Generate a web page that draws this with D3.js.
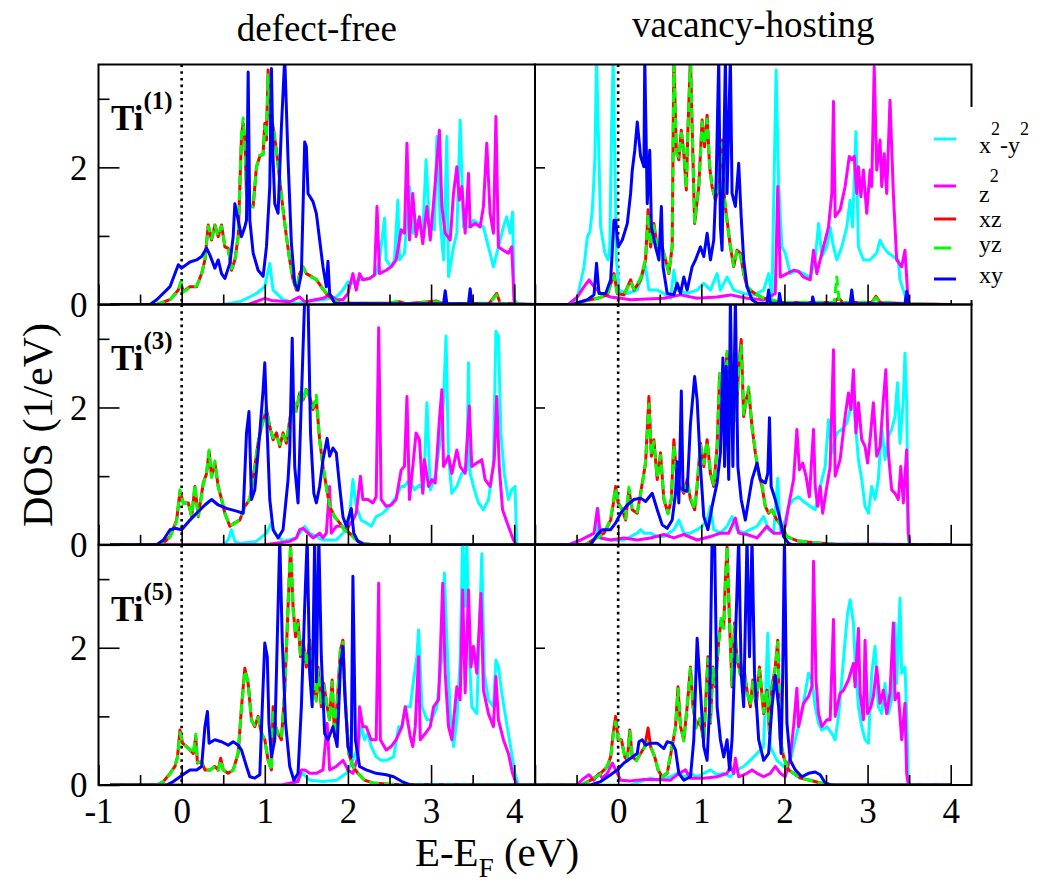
<!DOCTYPE html>
<html>
<head>
<meta charset="utf-8">
<script src="https://cdn.jsdelivr.net/npm/d3@7"></script>
<style>
  body { margin: 0; background: #fff; }
  svg { display: block; }
  svg text { font-family: "Liberation Serif", "DejaVu Serif", serif !important; fill: #000; }
</style>
</head>
<body>
<svg id="chart" width="1051" height="888"></svg>
<script>
const SERIF = "'Liberation Serif', 'DejaVu Serif', serif";
// ---- labels and ticks ----
const columnTitles = ["defect-free", "vacancy-hosting"];
const siteLabels = ["(1)", "(3)", "(5)"];
const orbitalNames = ["x2-y2", "z2", "xz", "yz", "xy"];
const orbitalColors = ["#00ffff", "#ff00ff", "#ff0000", "#00ff00", "#0000ff"];
const xTickLabelsLeft = [-1, 0, 1, 2, 3, 4];
const xTickLabelsRight = [0, 1, 2, 3, 4];
const xMajorTicks = [-1, 0, 1, 2, 3, 4];
const xMinorTicks = [-0.5, 0.5, 1.5, 2.5, 3.5];
const yMajorTicks = [0, 2];
const yMinorTicks = [1, 3];

// ---- projected DOS, [E - E_F (eV), DOS (1/eV)] ----
// Ti(1), defect-free
const free1_x2y2 = [[-0.86,0],[0.5,0],[0.7,0.04],[0.9,0.16],[1.0,0.26],[1.06,0.6],[1.1,0.21],[1.22,0.07],[1.38,0.02],[1.7,0.07],[1.86,0.11],[1.94,0.21],[2.0,0.33],[2.06,0.31],[2.14,0.36],[2.26,0.38],[2.34,0.45],[2.38,0.65],[2.44,1.26],[2.46,0.65],[2.52,0.55],[2.56,0.65],[2.6,1.52],[2.62,0.65],[2.68,0.75],[2.74,1.72],[2.78,1.04],[2.84,1.23],[2.9,1.04],[2.94,2.11],[2.98,1.13],[3.04,1.09],[3.07,2.45],[3.11,1.23],[3.15,0.65],[3.19,2.45],[3.21,0.41],[3.27,0.84],[3.31,1.04],[3.35,2.69],[3.39,1.13],[3.45,1.13],[3.51,1.23],[3.57,1.18],[3.63,1.13],[3.69,0.84],[3.75,0.55],[3.81,0.84],[3.87,1.13],[3.91,1.28],[3.95,1.04],[3.98,1.35],[4.0,0.07],[4.05,0],[4.25,0]];
const free1_z2 = [[-0.86,0],[0.8,0],[1.0,0.09],[1.08,0.06],[1.3,0.04],[1.42,0.11],[1.48,0.04],[1.7,0.09],[1.78,0.14],[1.86,0.07],[1.94,0.07],[2.0,0.16],[2.06,0.45],[2.1,0.21],[2.14,0.45],[2.18,0.36],[2.26,0.38],[2.32,0.43],[2.35,1.43],[2.38,0.45],[2.46,0.5],[2.52,0.55],[2.58,0.65],[2.64,1.09],[2.68,1.04],[2.71,2.35],[2.74,0.94],[2.78,1.62],[2.82,0.99],[2.86,1.28],[2.9,0.89],[2.95,1.43],[2.99,0.94],[3.04,1.62],[3.1,2.54],[3.13,1.43],[3.17,1.04],[3.23,0.94],[3.27,1.62],[3.31,2.01],[3.34,1.52],[3.37,1.72],[3.41,1.04],[3.45,1.91],[3.47,1.13],[3.53,1.18],[3.59,1.13],[3.63,1.43],[3.67,2.35],[3.71,1.33],[3.75,1.04],[3.78,2.74],[3.81,0.84],[3.87,0.79],[3.93,0.75],[3.97,0.84],[4.0,0.02],[4.05,0],[4.25,0]];
const free1_xz = [[-0.86,0],[-0.3,0],[-0.14,0.07],[-0.04,0.21],[-0.01,0.31],[0.02,0.19],[0.1,0.26],[0.18,0.26],[0.24,0.45],[0.28,0.65],[0.32,1.16],[0.36,0.94],[0.4,1.16],[0.44,0.99],[0.48,1.16],[0.52,0.84],[0.56,0.82],[0.6,0.5],[0.64,0.65],[0.68,0.99],[0.72,2.45],[0.74,2.64],[0.76,2.4],[0.78,1.62],[0.82,1.43],[0.86,1.43],[0.9,2.01],[0.94,2.16],[0.98,2.2],[1.0,2.64],[1.02,2.4],[1.04,3.42],[1.08,2.35],[1.1,2.59],[1.14,2.25],[1.18,1.81],[1.22,1.38],[1.26,0.99],[1.3,0.65],[1.34,0.36],[1.38,0.21],[1.42,0.45],[1.46,0.55],[1.5,0.45],[1.56,0.41],[1.62,0.36],[1.68,0.26],[1.74,0.16],[1.82,0.07],[1.9,0.02],[2.5,0.02],[2.62,0.04],[2.7,0.01],[3.07,0.05],[3.15,0.01],[3.7,0.02],[3.79,0.16],[3.83,0.02],[4.0,0.01],[4.25,0]];
const free1_yz = [[-0.86,0],[-0.3,0],[-0.14,0.07],[-0.04,0.2],[-0.01,0.33],[0.02,0.18],[0.1,0.25],[0.18,0.27],[0.24,0.44],[0.28,0.66],[0.32,1.14],[0.36,0.96],[0.4,1.15],[0.44,1.0],[0.48,1.14],[0.52,0.86],[0.56,0.8],[0.6,0.52],[0.64,0.64],[0.68,1.0],[0.72,2.5],[0.74,2.72],[0.76,2.38],[0.78,1.6],[0.82,1.45],[0.86,1.42],[0.9,2.0],[0.94,2.18],[0.98,2.18],[1.0,2.6],[1.02,2.45],[1.04,3.35],[1.08,2.38],[1.1,2.62],[1.14,2.22],[1.18,1.84],[1.22,1.36],[1.26,1.0],[1.3,0.64],[1.34,0.38],[1.38,0.22],[1.42,0.46],[1.46,0.54],[1.5,0.46],[1.56,0.4],[1.62,0.37],[1.68,0.25],[1.74,0.17],[1.82,0.07],[1.9,0.02],[2.5,0.02],[2.62,0.05],[2.7,0.01],[3.07,0.04],[3.15,0.01],[3.7,0.02],[3.79,0.14],[3.83,0.02],[4.0,0.01],[4.25,0]];
const free1_xy = [[-0.86,0],[-0.38,0],[-0.3,0.07],[-0.14,0.26],[-0.04,0.58],[0.0,0.53],[0.1,0.62],[0.18,0.65],[0.24,0.7],[0.3,0.82],[0.34,0.72],[0.4,0.53],[0.44,0.65],[0.48,0.45],[0.52,0.38],[0.58,0.6],[0.62,0.99],[0.64,1.47],[0.68,1.23],[0.72,0.99],[0.76,1.13],[0.78,1.23],[0.8,3.39],[0.82,1.23],[0.86,0.75],[0.92,0.5],[0.98,0.41],[1.02,0.84],[1.06,1.72],[1.08,3.44],[1.1,2.11],[1.12,1.47],[1.16,1.33],[1.2,2.59],[1.24,3.6],[1.28,2.11],[1.32,0.89],[1.36,0.31],[1.4,0.21],[1.44,0.45],[1.48,2.37],[1.5,2.3],[1.52,1.62],[1.58,1.5],[1.62,1.33],[1.66,0.94],[1.7,0.55],[1.74,0.26],[1.76,0.63],[1.78,0.16],[1.84,0.02],[2.5,0.01],[3.15,0.01],[3.17,0.2],[3.19,0.01],[3.45,0.01],[3.47,0.23],[3.49,0.01],[4.25,0]];

// Ti(1), vacancy-hosting
const vac1_x2y2 = [[-1,0],[-0.53,0],[-0.49,0.11],[-0.41,0.55],[-0.37,0.99],[-0.34,1.06],[-0.31,1.38],[-0.28,2.11],[-0.26,3.6],[-0.23,2.11],[-0.21,1.13],[-0.16,0.75],[-0.12,0.65],[-0.1,0.84],[-0.08,2.5],[-0.06,3.6],[-0.04,2.11],[-0.02,0.65],[0.01,0.21],[0.11,0.16],[0.23,0.21],[0.33,0.55],[0.37,0.21],[0.47,0.21],[0.55,0.16],[0.63,0.09],[0.67,0.5],[0.71,0.21],[0.83,0.16],[0.95,0.21],[1.03,0.31],[1.11,0.21],[1.19,0.45],[1.23,0.21],[1.31,0.4],[1.39,0.21],[1.51,0.16],[1.63,0.14],[1.75,0.21],[1.81,0.45],[1.85,0.11],[1.9,3.42],[1.93,1.77],[1.97,0.84],[2.01,0.75],[2.07,0.45],[2.15,0.5],[2.23,0.45],[2.31,0.4],[2.37,0.65],[2.41,1.18],[2.45,0.7],[2.51,0.84],[2.55,1.13],[2.59,0.84],[2.63,0.65],[2.69,0.84],[2.75,1.13],[2.79,1.52],[2.82,1.13],[2.86,2.52],[2.89,0.84],[2.95,0.65],[3.03,0.65],[3.11,0.75],[3.15,0.94],[3.19,0.84],[3.25,0.75],[3.31,0.7],[3.37,0.65],[3.39,0.36],[3.43,0.21],[3.47,0.07],[3.51,0],[4.0,0]];
const vac1_z2 = [[-1,0],[-0.6,0],[-0.49,0.11],[-0.41,0.26],[-0.35,0.36],[-0.29,0.26],[-0.21,0.16],[-0.09,0.11],[0.03,0.09],[0.15,0.07],[0.55,0.09],[0.75,0.14],[0.95,0.09],[1.19,0.11],[1.35,0.14],[1.55,0.09],[1.75,0.07],[1.89,0.16],[1.92,1.72],[1.95,0.4],[2.03,0.45],[2.11,0.5],[2.17,0.48],[2.23,0.4],[2.31,0.36],[2.35,0.79],[2.39,0.45],[2.43,0.65],[2.49,0.94],[2.53,1.13],[2.57,1.62],[2.59,2.96],[2.61,1.28],[2.67,1.38],[2.73,1.72],[2.78,2.16],[2.81,2.11],[2.84,2.16],[2.87,1.62],[2.89,2.01],[2.92,1.57],[2.95,1.96],[2.99,1.33],[3.03,1.96],[3.05,1.72],[3.08,3.47],[3.11,1.96],[3.15,2.4],[3.17,1.72],[3.2,2.2],[3.23,1.62],[3.27,2.98],[3.31,1.62],[3.35,0.65],[3.41,0.55],[3.45,0.79],[3.47,0.4],[3.49,0],[4.0,0]];
const vac1_xz = [[-1,0],[-0.5,0],[-0.45,0.04],[-0.25,0.09],[-0.13,0.14],[-0.05,0.45],[-0.01,0.16],[0.07,0.14],[0.15,0.36],[0.19,0.21],[0.27,0.36],[0.33,0.65],[0.36,1.38],[0.39,0.84],[0.43,1.18],[0.47,0.84],[0.53,0.84],[0.57,0.65],[0.61,0.45],[0.65,0.84],[0.67,3.6],[0.7,2.25],[0.73,2.11],[0.76,2.54],[0.79,2.2],[0.82,1.67],[0.84,2.59],[0.87,3.6],[0.89,2.59],[0.92,1.18],[0.97,1.72],[1.01,2.69],[1.04,2.3],[1.07,2.76],[1.1,2.01],[1.13,1.72],[1.17,1.52],[1.21,1.72],[1.25,2.4],[1.28,1.52],[1.31,1.23],[1.35,0.84],[1.39,0.55],[1.43,0.79],[1.47,0.75],[1.51,0.45],[1.55,0.26],[1.61,0.19],[1.67,0.14],[1.75,0.09],[1.83,0.07],[1.95,0.03],[2.6,0.03],[2.65,0.1],[2.7,0.03],[3.05,0.03],[3.1,0.12],[3.15,0.03],[3.5,0.01],[4.0,0]];
const vac1_yz = [[-1,0],[-0.5,0],[-0.45,0.04],[-0.25,0.09],[-0.13,0.14],[-0.05,0.42],[-0.01,0.17],[0.07,0.14],[0.15,0.34],[0.19,0.22],[0.27,0.38],[0.33,0.66],[0.36,1.32],[0.39,0.86],[0.43,1.15],[0.47,0.86],[0.53,0.82],[0.57,0.66],[0.61,0.46],[0.65,0.86],[0.67,3.6],[0.7,2.2],[0.73,2.15],[0.76,2.5],[0.79,2.24],[0.82,1.7],[0.84,2.55],[0.87,3.6],[0.89,2.6],[0.92,1.2],[0.97,1.75],[1.01,2.66],[1.04,2.35],[1.07,2.7],[1.1,2.05],[1.13,1.7],[1.17,1.55],[1.21,1.7],[1.25,2.35],[1.28,1.55],[1.31,1.2],[1.35,0.86],[1.39,0.56],[1.43,0.8],[1.47,0.72],[1.51,0.46],[1.55,0.27],[1.61,0.19],[1.67,0.14],[1.75,0.09],[1.83,0.07],[1.95,0.03],[2.6,0.03],[2.63,0.4],[2.66,0.03],[3.05,0.03],[3.1,0.1],[3.15,0.03],[3.5,0.01],[4.0,0]];
const vac1_xy = [[-1,0],[-0.55,0],[-0.37,0.07],[-0.29,0.14],[-0.26,0.6],[-0.23,0.16],[-0.15,0.16],[-0.09,0.36],[-0.05,1.23],[-0.03,1.23],[0.0,0.84],[0.05,0.94],[0.11,1.18],[0.15,1.62],[0.17,1.96],[0.2,2.25],[0.23,2.66],[0.27,2.16],[0.31,2.01],[0.32,3.6],[0.35,1.47],[0.38,2.25],[0.4,1.13],[0.45,0.84],[0.49,0.65],[0.52,1.43],[0.54,0.55],[0.59,0.16],[0.67,0.14],[0.71,0.31],[0.75,0.16],[0.79,0.4],[0.83,0.21],[0.89,0.55],[0.93,0.65],[0.99,0.84],[1.03,0.7],[1.07,1.04],[1.11,0.65],[1.15,0.94],[1.18,1.86],[1.21,3.6],[1.23,1.13],[1.25,0.79],[1.29,3.6],[1.31,1.62],[1.35,3.6],[1.37,1.62],[1.41,1.43],[1.45,2.06],[1.48,1.28],[1.51,0.65],[1.55,0.26],[1.61,0.07],[1.67,0.02],[1.79,0.02],[1.81,0.21],[1.83,0.02],[1.93,0.02],[1.94,0.16],[1.96,0.02],[2.33,0.01],[2.34,0.11],[2.36,0.01],[2.79,0.01],[2.81,0.21],[2.83,0.01],[3.45,0.01],[3.47,0.19],[3.49,0],[4.0,0]];

// Ti(3), defect-free
const free3_x2y2 = [[-0.86,0],[0.5,0],[0.56,0.07],[0.6,0.22],[0.64,0.05],[0.7,0.02],[0.9,0.05],[1.02,0.17],[1.08,0.32],[1.12,0.17],[1.22,0.05],[1.38,0.1],[1.48,0.27],[1.54,0.17],[1.7,0.07],[1.86,0.07],[1.98,0.22],[2.02,0.41],[2.06,0.95],[2.1,0.56],[2.16,0.36],[2.22,0.32],[2.28,0.27],[2.34,0.41],[2.42,0.46],[2.5,0.56],[2.58,0.7],[2.64,0.85],[2.68,0.85],[2.74,0.95],[2.8,0.8],[2.86,0.87],[2.91,0.8],[2.95,2.07],[2.99,0.8],[3.05,1.0],[3.11,1.53],[3.15,2.11],[3.18,3.04],[3.21,1.29],[3.25,0.75],[3.31,0.85],[3.37,1.04],[3.43,1.09],[3.45,2.65],[3.47,1.04],[3.51,0.85],[3.57,0.61],[3.63,0.51],[3.69,0.66],[3.75,1.14],[3.78,3.11],[3.81,3.04],[3.84,1.63],[3.88,1.04],[3.93,0.66],[3.97,0.8],[4.01,0.85],[4.03,0.02],[4.08,0],[4.25,0]];
const free3_z2 = [[-0.86,0],[1.0,0],[1.3,0.05],[1.38,0.1],[1.42,0.22],[1.46,0.24],[1.52,0.17],[1.58,0.1],[1.66,0.17],[1.7,0.1],[1.74,0.17],[1.78,0.85],[1.8,0.17],[1.86,0.27],[1.92,0.27],[1.98,0.22],[2.06,0.36],[2.1,0.46],[2.15,1.0],[2.18,0.66],[2.24,0.66],[2.3,0.61],[2.34,0.7],[2.37,3.16],[2.4,0.66],[2.46,0.56],[2.52,0.58],[2.58,0.66],[2.64,1.09],[2.68,1.14],[2.71,2.16],[2.74,0.66],[2.78,1.14],[2.82,1.63],[2.86,1.53],[2.9,0.75],[2.92,1.24],[2.97,0.85],[3.01,0.95],[3.05,0.9],[3.1,1.82],[3.13,2.26],[3.15,1.14],[3.21,1.29],[3.25,1.04],[3.31,1.38],[3.35,1.14],[3.41,1.04],[3.46,2.02],[3.49,1.14],[3.55,1.19],[3.61,1.24],[3.65,0.95],[3.71,0.85],[3.76,1.24],[3.79,2.16],[3.82,1.14],[3.86,0.51],[3.93,0.27],[3.99,0.07],[4.03,0],[4.25,0]];
const free3_xz = [[-0.86,0],[-0.24,0],[-0.14,0.12],[-0.06,0.36],[-0.02,0.78],[0.02,0.61],[0.08,0.61],[0.12,0.41],[0.16,0.85],[0.2,0.41],[0.26,0.9],[0.3,1.04],[0.33,1.36],[0.36,1.0],[0.4,1.19],[0.44,0.85],[0.48,0.66],[0.52,0.46],[0.58,0.27],[0.64,0.32],[0.7,0.36],[0.76,0.56],[0.82,0.66],[0.88,1.14],[0.92,1.48],[0.96,1.72],[1.02,1.97],[1.06,1.72],[1.1,1.53],[1.14,1.63],[1.18,1.43],[1.22,1.63],[1.26,1.48],[1.3,1.82],[1.34,2.11],[1.38,1.97],[1.42,2.21],[1.46,2.11],[1.5,2.26],[1.54,2.16],[1.58,1.97],[1.62,2.11],[1.66,1.53],[1.7,1.14],[1.74,0.85],[1.78,0.56],[1.84,0.41],[1.9,0.32],[1.96,0.22],[2.02,0.17],[2.1,0.07],[2.18,0.02],[2.3,0],[4.25,0]];
const free3_yz = [[-0.86,0],[-0.24,0],[-0.14,0.11],[-0.06,0.34],[-0.02,0.8],[0.02,0.6],[0.08,0.62],[0.12,0.42],[0.16,0.88],[0.2,0.4],[0.26,0.88],[0.3,1.06],[0.33,1.38],[0.36,0.98],[0.4,1.22],[0.44,0.84],[0.48,0.68],[0.52,0.45],[0.58,0.28],[0.64,0.31],[0.7,0.37],[0.76,0.55],[0.82,0.68],[0.88,1.12],[0.92,1.5],[0.96,1.7],[1.02,2.0],[1.06,1.7],[1.1,1.56],[1.14,1.6],[1.18,1.46],[1.22,1.6],[1.26,1.5],[1.3,1.8],[1.34,2.14],[1.38,1.94],[1.42,2.24],[1.46,2.08],[1.5,2.3],[1.54,2.12],[1.58,2.0],[1.62,2.18],[1.66,1.5],[1.7,1.16],[1.74,0.84],[1.78,0.58],[1.84,0.4],[1.9,0.33],[1.96,0.21],[2.02,0.17],[2.1,0.07],[2.18,0.02],[2.3,0],[4.25,0]];
const free3_xy = [[-0.86,0],[-0.3,0],[-0.22,0.07],[-0.14,0.22],[-0.08,0.24],[0.0,0.22],[0.1,0.36],[0.18,0.46],[0.28,0.58],[0.36,0.66],[0.44,0.58],[0.54,0.53],[0.66,0.49],[0.74,0.46],[0.78,1.63],[0.81,1.94],[0.84,0.66],[0.88,0.8],[0.94,1.63],[0.98,2.26],[1.0,2.65],[1.03,1.63],[1.06,0.66],[1.1,0.22],[1.16,0.1],[1.22,0.22],[1.28,0.95],[1.3,1.38],[1.33,3.01],[1.36,1.14],[1.4,0.61],[1.44,2.11],[1.48,3.6],[1.52,3.6],[1.55,1.63],[1.59,0.75],[1.62,0.61],[1.66,0.85],[1.7,1.24],[1.75,1.55],[1.78,1.29],[1.82,1.41],[1.86,1.34],[1.9,0.85],[1.94,0.41],[1.98,0.27],[2.04,0.53],[2.07,0.17],[2.12,0.05],[2.2,0],[4.25,0]];

// Ti(3), vacancy-hosting
const vac3_x2y2 = [[-1,0],[-0.33,0],[-0.25,0.17],[-0.24,0.53],[-0.22,0.1],[-0.09,0.07],[0.07,0.07],[0.23,0.17],[0.27,0.22],[0.31,0.17],[0.39,0.17],[0.47,0.12],[0.55,0.12],[0.67,0.22],[0.73,0.36],[0.79,0.17],[0.87,0.17],[0.95,0.22],[1.01,0.27],[1.07,0.36],[1.11,0.56],[1.15,0.22],[1.23,0.17],[1.31,0.27],[1.37,0.41],[1.43,0.22],[1.51,0.17],[1.59,0.22],[1.67,0.27],[1.75,0.41],[1.81,0.22],[1.87,0.17],[1.92,0.97],[1.95,0.22],[2.01,0.36],[2.05,0.56],[2.11,0.66],[2.17,0.7],[2.23,0.63],[2.31,0.56],[2.37,0.51],[2.43,0.85],[2.49,1.14],[2.53,1.82],[2.57,1.34],[2.63,1.63],[2.69,1.68],[2.75,1.77],[2.79,1.97],[2.82,2.26],[2.85,1.82],[2.89,1.24],[2.93,0.95],[2.97,0.56],[3.01,0.46],[3.05,0.85],[3.09,0.66],[3.13,0.95],[3.17,1.72],[3.21,1.24],[3.25,1.58],[3.29,1.68],[3.33,1.87],[3.36,2.36],[3.39,1.48],[3.43,2.11],[3.45,2.79],[3.47,2.11],[3.49,0.07],[3.51,0],[4.0,0]];
const vac3_z2 = [[-1,0],[-0.6,0],[-0.45,0.07],[-0.37,0.12],[-0.29,0.17],[-0.25,0.53],[-0.21,0.1],[-0.09,0.07],[0.07,0.1],[0.23,0.07],[0.39,0.1],[0.55,0.15],[0.67,0.1],[0.79,0.15],[0.95,0.07],[1.11,0.12],[1.23,0.17],[1.33,0.17],[1.41,0.39],[1.45,0.17],[1.55,0.15],[1.67,0.1],[1.79,0.27],[1.87,0.17],[1.95,0.17],[2.01,0.27],[2.05,0.56],[2.11,0.95],[2.15,1.68],[2.18,1.09],[2.22,1.19],[2.26,1.0],[2.3,0.7],[2.35,1.68],[2.37,0.85],[2.4,0.56],[2.43,0.85],[2.46,0.46],[2.51,0.85],[2.55,1.14],[2.59,2.84],[2.61,1.0],[2.67,1.24],[2.73,1.87],[2.77,2.21],[2.8,1.97],[2.83,2.55],[2.86,1.63],[2.89,2.07],[2.93,1.53],[2.97,1.43],[3.0,1.19],[3.03,1.53],[3.07,2.07],[3.11,1.29],[3.15,1.43],[3.19,2.11],[3.22,2.55],[3.25,1.34],[3.29,0.8],[3.33,0.75],[3.37,0.66],[3.4,1.14],[3.43,0.61],[3.47,1.38],[3.49,0.17],[3.51,0],[4.0,0]];
const vac3_xz = [[-1,0],[-0.4,0],[-0.33,0.05],[-0.17,0.17],[-0.09,0.36],[-0.05,0.66],[-0.03,0.85],[0.0,0.61],[0.05,0.51],[0.09,0.36],[0.13,0.8],[0.17,0.51],[0.23,0.46],[0.29,0.9],[0.33,1.19],[0.37,2.16],[0.4,1.29],[0.43,1.53],[0.47,0.95],[0.51,1.34],[0.55,0.66],[0.6,0.46],[0.64,0.66],[0.67,1.53],[0.7,1.04],[0.74,0.85],[0.79,0.75],[0.83,0.95],[0.87,0.66],[0.92,0.51],[0.95,0.85],[0.99,1.48],[1.03,1.14],[1.07,1.53],[1.11,1.04],[1.15,0.85],[1.19,1.43],[1.22,2.45],[1.26,2.11],[1.31,2.79],[1.34,2.21],[1.39,2.21],[1.42,1.82],[1.45,2.6],[1.48,2.99],[1.51,1.87],[1.54,2.11],[1.57,2.26],[1.61,1.72],[1.65,1.34],[1.69,1.04],[1.73,0.85],[1.77,0.56],[1.81,0.46],[1.85,0.51],[1.91,0.36],[1.97,0.27],[2.03,0.12],[2.15,0.06],[2.35,0.03],[2.6,0.01],[4.0,0]];
const vac3_yz = [[-1,0],[-0.4,0],[-0.33,0.05],[-0.17,0.16],[-0.09,0.38],[-0.05,0.7],[-0.03,0.82],[0.0,0.62],[0.05,0.5],[0.09,0.38],[0.13,0.84],[0.17,0.5],[0.23,0.48],[0.29,0.86],[0.33,1.22],[0.37,2.05],[0.4,1.32],[0.43,1.5],[0.47,0.98],[0.51,1.3],[0.55,0.68],[0.6,0.45],[0.64,0.68],[0.67,1.45],[0.7,1.08],[0.74,0.82],[0.79,0.78],[0.83,0.92],[0.87,0.7],[0.92,0.52],[0.95,0.88],[0.99,1.45],[1.03,1.18],[1.07,1.5],[1.11,1.06],[1.15,0.88],[1.19,1.4],[1.22,2.5],[1.26,2.08],[1.31,2.82],[1.34,2.18],[1.39,2.25],[1.42,1.78],[1.45,2.55],[1.48,2.9],[1.51,1.9],[1.54,2.08],[1.57,2.3],[1.61,1.7],[1.65,1.38],[1.69,1.02],[1.73,0.88],[1.77,0.55],[1.81,0.48],[1.85,0.5],[1.91,0.37],[1.97,0.26],[2.03,0.12],[2.15,0.06],[2.35,0.03],[2.6,0.01],[4.0,0]];
const vac3_xy = [[-1,0],[-0.33,0],[-0.25,0.15],[-0.19,0.22],[-0.09,0.22],[-0.03,0.32],[0.03,0.46],[0.11,0.58],[0.19,0.66],[0.27,0.68],[0.33,0.63],[0.41,0.75],[0.47,0.51],[0.53,0.29],[0.59,0.24],[0.65,0.36],[0.69,0.75],[0.71,1.21],[0.73,0.61],[0.76,2.24],[0.78,0.8],[0.83,0.78],[0.87,1.77],[0.92,2.45],[0.95,2.11],[0.99,1.14],[1.03,0.41],[1.08,0.22],[1.13,0.56],[1.19,0.9],[1.23,1.34],[1.26,2.72],[1.28,1.14],[1.3,2.6],[1.33,0.95],[1.35,3.6],[1.38,1.14],[1.41,3.6],[1.44,1.14],[1.48,0.66],[1.53,0.36],[1.57,0.66],[1.61,0.95],[1.67,1.19],[1.71,0.95],[1.77,0.9],[1.8,1.04],[1.82,1.85],[1.84,0.85],[1.89,0.66],[1.94,0.41],[1.99,0.12],[2.05,0.02],[2.1,0],[4.0,0]];

// Ti(5), defect-free
const free5_x2y2 = [[-0.86,0],[1.3,0],[1.38,0.05],[1.46,0.17],[1.54,0.07],[1.7,0.05],[1.86,0.07],[1.98,0.17],[2.06,0.36],[2.12,0.56],[2.16,0.85],[2.2,0.66],[2.24,0.75],[2.28,0.56],[2.34,0.41],[2.4,0.36],[2.46,0.36],[2.55,0.41],[2.61,0.85],[2.65,0.85],[2.69,1.14],[2.75,1.14],[2.79,1.53],[2.83,1.87],[2.85,2.26],[2.89,1.14],[2.95,0.95],[3.01,0.95],[3.07,1.14],[3.13,1.87],[3.16,3.09],[3.19,2.11],[3.23,1.04],[3.27,0.56],[3.31,0.95],[3.35,1.82],[3.38,3.6],[3.41,2.6],[3.43,3.6],[3.46,1.87],[3.49,1.14],[3.55,1.04],[3.61,3.37],[3.64,1.63],[3.69,1.24],[3.75,1.14],[3.78,1.82],[3.81,1.72],[3.85,1.34],[3.89,1.04],[3.93,0.75],[3.97,0.46],[4.01,0.17],[4.05,0],[4.25,0]];
const free5_z2 = [[-0.86,0],[1.2,0],[1.4,0.05],[1.44,0.22],[1.48,0.22],[1.54,0.17],[1.62,0.17],[1.7,0.22],[1.75,0.9],[1.78,0.22],[1.86,0.27],[1.94,0.36],[2.0,0.22],[2.06,0.17],[2.12,0.41],[2.14,1.14],[2.18,0.85],[2.22,0.85],[2.28,0.66],[2.34,0.66],[2.37,2.94],[2.39,0.66],[2.46,0.51],[2.52,0.56],[2.58,0.66],[2.65,0.85],[2.69,1.14],[2.75,0.7],[2.78,0.56],[2.81,0.85],[2.85,1.87],[2.87,0.66],[2.93,0.75],[2.99,0.85],[3.03,1.14],[3.09,1.24],[3.11,1.87],[3.14,2.94],[3.17,1.63],[3.21,0.85],[3.25,0.66],[3.31,1.43],[3.35,1.24],[3.38,2.84],[3.41,1.34],[3.45,2.84],[3.48,1.72],[3.51,2.02],[3.55,1.63],[3.6,2.79],[3.63,1.38],[3.69,1.04],[3.75,0.85],[3.78,1.58],[3.81,0.95],[3.87,0.66],[3.93,0.46],[3.98,0.17],[4.03,0],[4.25,0]];
const free5_xz = [[-0.86,0],[-0.3,0],[-0.22,0.05],[-0.14,0.17],[-0.08,0.27],[-0.05,0.41],[-0.02,0.8],[0.01,0.61],[0.06,0.56],[0.1,0.51],[0.14,0.46],[0.17,0.7],[0.19,0.32],[0.24,0.34],[0.28,0.22],[0.34,0.22],[0.4,0.27],[0.44,0.22],[0.47,0.39],[0.5,0.22],[0.56,0.17],[0.62,0.22],[0.68,0.46],[0.72,1.14],[0.76,1.7],[0.8,1.48],[0.84,0.95],[0.88,0.85],[0.92,1.0],[0.96,0.75],[1.0,0.66],[1.04,0.36],[1.08,0.22],[1.1,1.14],[1.13,0.85],[1.16,0.75],[1.2,0.66],[1.24,1.38],[1.28,2.6],[1.31,3.47],[1.34,2.6],[1.37,2.16],[1.4,2.4],[1.43,1.87],[1.46,2.11],[1.5,1.72],[1.54,2.11],[1.58,1.48],[1.62,1.24],[1.64,1.72],[1.68,1.14],[1.71,1.48],[1.75,1.14],[1.78,0.95],[1.81,1.53],[1.84,0.7],[1.88,1.38],[1.91,1.97],[1.94,2.11],[1.97,1.19],[2.01,0.46],[2.06,0.27],[2.12,0.17],[2.2,0.07],[2.3,0.03],[2.5,0.01],[4.25,0]];
const free5_yz = [[-0.86,0],[-0.3,0],[-0.22,0.05],[-0.14,0.16],[-0.08,0.28],[-0.05,0.4],[-0.02,0.76],[0.01,0.62],[0.06,0.55],[0.1,0.52],[0.14,0.45],[0.17,0.74],[0.19,0.33],[0.24,0.33],[0.28,0.23],[0.34,0.21],[0.4,0.28],[0.44,0.21],[0.47,0.36],[0.5,0.22],[0.56,0.18],[0.62,0.21],[0.68,0.48],[0.72,1.12],[0.76,1.66],[0.8,1.5],[0.84,0.93],[0.88,0.87],[0.92,0.98],[0.96,0.77],[1.0,0.64],[1.04,0.37],[1.08,0.21],[1.1,1.1],[1.13,0.87],[1.16,0.73],[1.2,0.68],[1.24,1.35],[1.28,2.65],[1.31,3.5],[1.34,2.55],[1.37,2.2],[1.4,2.35],[1.43,1.9],[1.46,2.08],[1.5,1.75],[1.54,2.08],[1.58,1.5],[1.62,1.22],[1.64,1.68],[1.68,1.16],[1.71,1.45],[1.75,1.16],[1.78,0.93],[1.81,1.5],[1.84,0.72],[1.88,1.35],[1.91,2.0],[1.94,2.08],[1.97,1.2],[2.01,0.45],[2.06,0.28],[2.12,0.17],[2.2,0.07],[2.3,0.03],[2.5,0.01],[4.25,0]];
const free5_xy = [[-0.86,0],[-0.18,0],[-0.1,0.05],[-0.02,0.12],[0.04,0.17],[0.1,0.22],[0.18,0.22],[0.24,0.27],[0.28,0.85],[0.31,1.07],[0.33,0.61],[0.4,0.66],[0.48,0.63],[0.56,0.58],[0.62,0.63],[0.68,0.58],[0.72,0.51],[0.78,0.27],[0.82,0.12],[0.88,0.1],[0.94,0.15],[0.97,1.14],[1.0,2.07],[1.03,1.87],[1.05,0.9],[1.08,0.41],[1.12,0.66],[1.15,2.11],[1.18,3.6],[1.21,2.11],[1.25,0.9],[1.3,0.27],[1.35,0.07],[1.4,0.17],[1.44,1.14],[1.48,2.6],[1.51,3.6],[1.54,1.63],[1.57,1.14],[1.6,3.6],[1.62,1.5],[1.65,3.6],[1.68,1.87],[1.72,0.75],[1.76,0.66],[1.82,0.85],[1.87,0.56],[1.91,1.72],[1.94,2.02],[1.96,1.38],[2.0,0.56],[2.04,0.41],[2.06,3.04],[2.09,0.66],[2.14,0.27],[2.22,0.22],[2.34,0.17],[2.46,0.15],[2.55,0.12],[2.65,0.05],[2.75,0],[4.25,0]];

// Ti(5), vacancy-hosting
const vac5_x2y2 = [[-1,0],[0.15,0],[0.27,0.05],[0.39,0.1],[0.47,0.07],[0.63,0.12],[0.71,0.17],[0.79,0.12],[0.87,0.17],[0.95,0.12],[1.03,0.17],[1.11,0.22],[1.19,0.15],[1.27,0.17],[1.35,0.12],[1.43,0.22],[1.51,0.27],[1.59,0.36],[1.67,0.46],[1.75,0.56],[1.8,2.21],[1.83,0.56],[1.91,0.36],[1.99,0.27],[2.07,0.36],[2.13,0.66],[2.19,0.95],[2.25,1.34],[2.29,1.63],[2.33,1.53],[2.37,1.14],[2.41,0.9],[2.45,0.8],[2.51,0.85],[2.57,0.75],[2.61,0.66],[2.65,1.0],[2.69,1.53],[2.73,2.11],[2.76,2.5],[2.79,2.7],[2.83,2.36],[2.85,1.82],[2.89,1.14],[2.93,0.85],[2.97,0.66],[3.01,0.61],[3.05,1.63],[3.09,2.02],[3.13,1.14],[3.17,1.04],[3.21,1.48],[3.25,1.04],[3.29,1.24],[3.33,2.36],[3.35,1.48],[3.39,2.72],[3.41,1.63],[3.45,1.72],[3.47,1.04],[3.49,0.07],[3.51,0],[4.0,0]];
const vac5_z2 = [[-1,0],[-0.5,0],[-0.41,0.1],[-0.35,0.15],[-0.29,0.07],[-0.23,0.17],[-0.19,0.1],[-0.13,0.17],[-0.07,0.32],[-0.03,0.22],[0.03,0.07],[0.15,0.06],[0.31,0.08],[0.47,0.08],[0.63,0.07],[0.71,0.15],[0.81,0.22],[0.87,0.1],[1.03,0.1],[1.19,0.12],[1.31,0.17],[1.35,0.27],[1.39,0.17],[1.41,0.39],[1.45,0.12],[1.55,0.17],[1.61,0.22],[1.67,0.17],[1.75,0.12],[1.83,0.17],[1.89,0.27],[1.95,0.17],[2.01,0.12],[2.07,0.41],[2.11,0.85],[2.15,1.41],[2.17,0.85],[2.23,1.19],[2.29,1.29],[2.33,1.43],[2.35,3.26],[2.38,1.53],[2.41,1.04],[2.45,0.85],[2.51,0.95],[2.55,0.95],[2.59,2.41],[2.61,1.0],[2.67,1.34],[2.71,1.38],[2.77,1.53],[2.83,1.77],[2.85,1.43],[2.89,2.28],[2.91,1.34],[2.95,0.95],[2.97,2.11],[3.0,1.04],[3.04,1.14],[3.07,1.29],[3.11,1.72],[3.15,1.19],[3.19,1.38],[3.23,1.04],[3.27,1.34],[3.31,2.36],[3.33,1.24],[3.37,1.34],[3.41,0.66],[3.45,1.19],[3.47,0.17],[3.49,0],[4.0,0]];
const vac5_xz = [[-1,0],[-0.45,0],[-0.33,0.07],[-0.21,0.17],[-0.13,0.27],[-0.09,0.41],[-0.06,0.75],[-0.03,1.0],[0.0,0.66],[0.04,0.66],[0.08,0.41],[0.11,0.36],[0.14,0.8],[0.17,0.41],[0.22,0.36],[0.27,0.46],[0.32,0.56],[0.36,0.83],[0.39,0.56],[0.44,0.41],[0.48,0.22],[0.53,0.12],[0.59,0.17],[0.65,0.56],[0.69,0.85],[0.72,1.43],[0.75,0.85],[0.79,0.66],[0.83,1.14],[0.87,1.72],[0.9,1.14],[0.94,0.85],[0.98,0.95],[1.03,0.66],[1.08,1.87],[1.11,0.9],[1.14,1.72],[1.17,1.43],[1.21,2.11],[1.24,2.4],[1.27,2.31],[1.29,2.99],[1.31,3.47],[1.34,2.36],[1.37,1.43],[1.4,2.36],[1.43,1.82],[1.47,1.63],[1.51,1.72],[1.55,1.38],[1.59,1.14],[1.62,1.53],[1.66,1.14],[1.7,1.72],[1.75,1.04],[1.79,1.38],[1.82,0.75],[1.85,1.43],[1.89,1.72],[1.92,2.11],[1.95,0.66],[1.99,0.41],[2.05,0.22],[2.11,0.17],[2.19,0.1],[2.31,0.07],[2.43,0.03],[2.6,0],[4.0,0]];
const vac5_yz = [[-1,0],[-0.45,0],[-0.33,0.07],[-0.21,0.16],[-0.13,0.28],[-0.09,0.4],[-0.06,0.72],[-0.03,0.92],[0.0,0.68],[0.04,0.64],[0.08,0.42],[0.11,0.35],[0.14,0.78],[0.17,0.42],[0.22,0.35],[0.27,0.48],[0.32,0.55],[0.36,0.62],[0.39,0.58],[0.44,0.4],[0.48,0.23],[0.53,0.12],[0.59,0.18],[0.65,0.6],[0.69,0.82],[0.72,1.4],[0.75,0.88],[0.79,0.64],[0.83,1.16],[0.87,1.7],[0.9,1.16],[0.94,0.83],[0.98,0.97],[1.03,0.64],[1.08,1.84],[1.11,0.92],[1.14,1.7],[1.17,1.46],[1.21,2.08],[1.24,2.45],[1.27,2.28],[1.29,2.95],[1.31,3.47],[1.34,2.4],[1.37,1.45],[1.4,2.32],[1.43,1.85],[1.47,1.6],[1.51,1.75],[1.55,1.35],[1.59,1.16],[1.62,1.5],[1.66,1.16],[1.7,1.68],[1.75,1.06],[1.79,1.35],[1.82,0.78],[1.85,1.4],[1.89,1.7],[1.92,2.08],[1.95,0.68],[1.99,0.4],[2.05,0.22],[2.11,0.17],[2.19,0.1],[2.31,0.07],[2.43,0.03],[2.6,0],[4.0,0]];
const vac5_xy = [[-1,0],[-0.33,0],[-0.21,0.05],[-0.09,0.15],[-0.01,0.22],[0.07,0.32],[0.15,0.39],[0.23,0.46],[0.25,0.63],[0.29,0.66],[0.33,0.58],[0.39,0.61],[0.47,0.61],[0.55,0.53],[0.59,0.63],[0.65,0.61],[0.69,0.51],[0.73,0.17],[0.79,0.07],[0.87,0.12],[0.91,0.66],[0.95,2.14],[0.99,1.38],[1.03,0.56],[1.07,0.36],[1.1,1.14],[1.13,3.6],[1.16,3.6],[1.19,1.14],[1.23,0.66],[1.27,0.41],[1.31,0.66],[1.34,0.22],[1.37,0.66],[1.41,2.11],[1.45,3.6],[1.48,1.63],[1.51,1.14],[1.55,3.6],[1.58,1.87],[1.61,3.6],[1.64,1.63],[1.69,0.66],[1.75,0.36],[1.81,0.46],[1.85,1.14],[1.89,1.6],[1.93,1.14],[1.96,0.46],[1.98,1.63],[2.0,3.6],[2.03,0.9],[2.07,0.36],[2.13,0.22],[2.21,0.12],[2.29,0.17],[2.37,0.19],[2.43,0.15],[2.49,0.03],[2.55,0],[4.0,0]];

// panel grid: rows are Ti sites, columns are structures
const panelSeries = [
  [[free1_x2y2, free1_z2, free1_xz, free1_yz, free1_xy], [vac1_x2y2, vac1_z2, vac1_xz, vac1_yz, vac1_xy]],
  [[free3_x2y2, free3_z2, free3_xz, free3_yz, free3_xy], [vac3_x2y2, vac3_z2, vac3_xz, vac3_yz, vac3_xy]],
  [[free5_x2y2, free5_z2, free5_xz, free5_yz, free5_xy], [vac5_x2y2, vac5_z2, vac5_xz, vac5_yz, vac5_xy]]
];

// ---- layout ----
const colLeft = [98.5, 535];
const colRight = [535, 971.5];
const rowTop = [64.5, 304.5, 544.8];
const rowBottom = [304.5, 544.8, 785];
const siteLabelBaseline = [130, 370, 621];

const svg = d3.select("#chart");
const defs = svg.append("defs");

function serifText(sel) {
  return sel.attr("font-family", SERIF).style("font-family", SERIF);
}

for (let r = 0; r < 3; r++) {
  for (let c = 0; c < 2; c++) {
    const x = d3.scaleLinear().domain([-1, 4.25]).range([colLeft[c], colRight[c]]);
    const y = d3.scaleLinear().domain([0, 3.5]).range([rowBottom[r], rowTop[r]]);
    const id = `clip-${r}-${c}`;
    defs.append("clipPath").attr("id", id).append("rect")
      .attr("x", colLeft[c]).attr("y", rowTop[r])
      .attr("width", colRight[c] - colLeft[c]).attr("height", rowBottom[r] - rowTop[r]);

    const g = svg.append("g");
    const curves = g.append("g").attr("clip-path", `url(#${id})`);

    // Fermi level
    curves.append("line")
      .attr("x1", x(0)).attr("x2", x(0)).attr("y1", rowTop[r]).attr("y2", rowBottom[r])
      .attr("stroke", "#000").attr("stroke-width", 2.6).attr("stroke-dasharray", "2.6,4.1");

    const line = d3.line().x(d => x(d[0])).y(d => y(d[1]));
    panelSeries[r][c].forEach((data, k) => {
      const p = curves.append("path").datum(data)
        .attr("d", line)
        .attr("fill", "none")
        .attr("stroke", orbitalColors[k])
        .attr("stroke-width", 3)
        .attr("stroke-linejoin", "round");
      if (orbitalNames[k] === "yz") p.attr("stroke-dasharray", "10,5");
    });

    // frame
    g.append("rect")
      .attr("x", colLeft[c]).attr("y", rowTop[r])
      .attr("width", colRight[c] - colLeft[c]).attr("height", rowBottom[r] - rowTop[r])
      .attr("fill", "none").attr("stroke", "#000").attr("stroke-width", 2);

    // inward ticks on the bottom edge
    const bottomMajor = d3.axisBottom(x).tickValues(xMajorTicks).tickSize(-20).tickFormat("");
    const bottomMinor = d3.axisBottom(x).tickValues(xMinorTicks).tickSize(-10).tickFormat("");
    [bottomMajor, bottomMinor].forEach(ax => {
      const a = g.append("g").attr("transform", `translate(0,${rowBottom[r]})`).call(ax);
      a.select(".domain").remove();
      a.selectAll("line").attr("stroke", "#000").attr("stroke-width", 1.6);
    });

    // inward ticks on the left edge
    if (c === 0) {
      const leftMajor = d3.axisLeft(y).tickValues(yMajorTicks).tickSize(-21).tickFormat("");
      const leftMinor = d3.axisLeft(y).tickValues(yMinorTicks).tickSize(-11).tickFormat("");
      [leftMajor, leftMinor].forEach(ax => {
        const a = g.append("g").attr("transform", `translate(${colLeft[c]},0)`).call(ax);
        a.select(".domain").remove();
        a.selectAll("line").attr("stroke", "#000").attr("stroke-width", 1.6);
      });
      const labels = d3.axisLeft(y).tickValues(yMajorTicks).tickSize(0).tickPadding(11).tickFormat(d => String(d));
      const a = g.append("g").attr("transform", `translate(${colLeft[c]},0)`).call(labels);
      a.attr("font-family", null);
      a.select(".domain").remove();
      serifText(a.selectAll("text")).attr("font-size", 35).attr("dy", "0.34em");
    } else {
      const rightColTicks = d3.axisLeft(y).tickValues([2]).tickSize(-10).tickFormat("");
      const a = g.append("g").attr("transform", `translate(${colLeft[c]},0)`).call(rightColTicks);
      a.select(".domain").remove();
      a.selectAll("line").attr("stroke", "#000").attr("stroke-width", 1.6);
    }

    // energy labels under the bottom row
    if (r === 2) {
      const vals = c === 0 ? xTickLabelsLeft : xTickLabelsRight;
      const ax = d3.axisBottom(x).tickValues(vals).tickSize(0).tickFormat(d => String(d));
      const a = g.append("g").attr("transform", `translate(0,${rowBottom[r]})`).call(ax);
      a.attr("font-family", null);
      a.select(".domain").remove();
      serifText(a.selectAll("text")).attr("font-size", 35).attr("y", 38).attr("dy", null);
    }

    // site label
    if (c === 0) {
      const t = serifText(svg.append("text")).attr("x", 111).attr("y", siteLabelBaseline[r])
        .attr("font-size", 35).attr("font-weight", "bold");
      t.append("tspan").text("Ti");
      t.append("tspan").attr("dy", -21).attr("font-size", 25).text(siteLabels[r]);
    }
  }
}

// column titles
columnTitles.forEach((title, c) => {
  serifText(svg.append("text"))
    .attr("x", (colLeft[c] + colRight[c]) / 2)
    .attr("y", c === 0 ? 41 : 37)
    .attr("text-anchor", "middle")
    .attr("font-size", 37)
    .text(title);
});

// axis titles
serifText(svg.append("text"))
  .attr("transform", "translate(52,425) rotate(-90)")
  .attr("text-anchor", "middle")
  .attr("font-size", 42)
  .text("DOS (1/eV)");

const xt = serifText(svg.append("text")).attr("x", 497).attr("y", 866)
  .attr("text-anchor", "middle").attr("font-size", 41);
xt.append("tspan").text("E-E");
xt.append("tspan").attr("dy", 11).attr("font-size", 27).text("F");
xt.append("tspan").attr("dy", -11).text(" (eV)");

// legend
const legend = svg.append("g");
legend.append("rect").attr("x", 926).attr("y", 107).attr("width", 125).attr("height", 193).attr("fill", "#fff");
const legendRows = [139, 186, 219, 248, 279];
const legendText = [[153, "x", "2", "-y", "2"], [202, "z", "2"], [227, "xz"], [252, "yz"], [283, "xy"]];
orbitalNames.forEach((name, k) => {
  legend.append("line")
    .attr("x1", 934).attr("x2", name === "yz" ? 951 : 956)
    .attr("y1", legendRows[k]).attr("y2", legendRows[k])
    .attr("stroke", orbitalColors[k]).attr("stroke-width", 3);
  const spec = legendText[k];
  const t = serifText(legend.append("text")).attr("x", 979).attr("y", spec[0]).attr("font-size", 24);
  if (spec.length === 5) {
    t.append("tspan").text(spec[1]);
    t.append("tspan").attr("dy", -18).attr("font-size", 18).text(spec[2]);
    t.append("tspan").attr("dy", 18).text(spec[3]);
    t.append("tspan").attr("dy", -18).attr("font-size", 18).text(spec[4]);
  } else if (spec.length === 3) {
    t.append("tspan").text(spec[1]);
    t.append("tspan").attr("dy", -20).attr("font-size", 18).text(spec[2]);
  } else {
    t.text(spec[1]);
  }
});
</script>
</body>
</html>
